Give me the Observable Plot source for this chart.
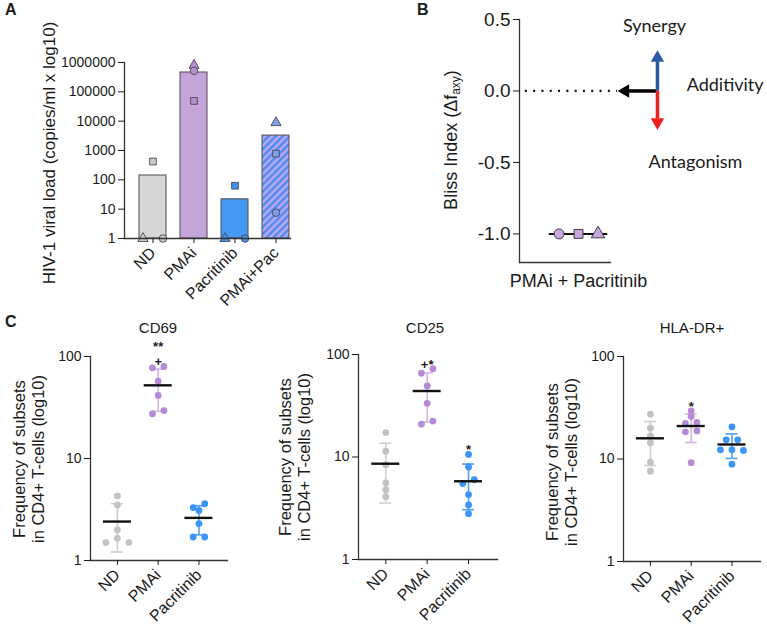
<!DOCTYPE html>
<html>
<head>
<meta charset="utf-8">
<script src="https://cdn.jsdelivr.net/npm/d3@7"></script>
<script src="https://cdn.jsdelivr.net/npm/@observablehq/plot@0.6"></script>
<style>
  body { margin: 0; background: #fff; }
  #fig { position: relative; width: 767px; height: 630px; overflow: hidden; background: #fff;
         font-family: "Liberation Sans", Arial, sans-serif; color: #1a1a1a; }
  .abs { position: absolute; }
  .panel-letter { position: absolute; font-weight: bold; font-size: 16px; }
  .vlabel { position: absolute; transform: translate(-50%, -50%) rotate(-90deg); white-space: nowrap; text-align: center; }
  .ctitle { position: absolute; transform: translate(-50%, -50%); white-space: nowrap; font-size: 15px; }
</style>
</head>
<body>
<div id="fig"></div>
<script>
// ---------- Panel A: viral load per condition (three donors) ----------
const viralGroups = ["ND", "PMAi", "Pacritinib", "PMAi+Pac"];
const donors = ["Donor 1", "Donor 2", "Donor 3"];
const donorSymbols = ["triangle", "square", "circle"];
const viralND = [1, 420, 1];
const viralPMAi = [800000, 49000, 520000];
const viralPac = [1, 63, 1];
const viralCombo = [8900, 780, 7.6];
const viralTicks = [1, 10, 100, 1000, 10000, 100000, 1000000];

// ---------- Panel B: Bliss index of the combination ----------
const blissLabel = "PMAi + Pacritinib";
const blissValues = [-1.0, -1.0, -1.0];
const blissTicks = [-1.0, -0.5, 0.0, 0.5];

// ---------- Panel C: activation markers on CD4+ T cells ----------
const groups = ["ND", "PMAi", "Pacritinib"];
const cd69 = [
  [4.3, 3.5, 2.0, 1.65, 1.5, 1.5],
  [79.8, 77.5, 57.3, 41.5, 29.5, 27.4],
  [3.6, 3.3, 3.1, 2.3, 1.7, 1.7]
];
const cd25 = [
  [17.3, 11.4, 8.4, 5.6, 4.8, 4.1],
  [72.6, 65.6, 49.3, 33.4, 22.4, 20.9],
  [10.6, 8.0, 6.0, 5.5, 4.3, 3.4, 2.8]
];
const hladr = [
  [27.4, 20.0, 16.8, 14.4, 9.3, 7.6],
  [29.5, 26.0, 22.7, 22.2, 18.8, 18.4, 9.2],
  [20.6, 15.4, 15.4, 12.3, 12.3, 12.1, 8.9]
];
const cd69Signif = ["", "**\n+", ""];
const cd25Signif = ["", "+*", "*"];
const hladrSignif = ["", "*", ""];
const cTicks = [1, 10, 100];

// colours
const barFill = {"ND": "#d6d6d6", "PMAi": "#c5a4db", "Pacritinib": "#4598f4", "PMAi+Pac": "url(#hatchA)"};
const pointFill = {"ND": "#c9c9c9", "PMAi": "#b98cd3", "Pacritinib": "#3f94f2", "PMAi+Pac": "#7d9ff0"};
const dotColor = ["#c2c2c2", "#b68bd5", "#3a95f6"];
const errColor = ["#cfcfcf", "#d2b6e6", "#4ea2f6"];

const FONT = "Liberation Sans, Arial, sans-serif";
const fig = document.getElementById("fig");

function place(node, left, top, width) {
  const d = document.createElement("div");
  d.className = "abs";
  d.style.left = left + "px";
  d.style.top = top + "px";
  if (width) d.style.width = width + "px";
  d.appendChild(node);
  fig.appendChild(d);
  return d;
}
function addText(cls, html, x, y, css) {
  const d = document.createElement("div");
  d.className = cls;
  d.style.left = x + "px";
  d.style.top = y + "px";
  Object.assign(d.style, css || {});
  d.innerHTML = html;
  fig.appendChild(d);
  return d;
}

// ================= Panel A =================
{
  const W = 300, H = 320, mL = 124, mR = 10, mT = 62, mB = 82;
  const series = [viralND, viralPMAi, viralPac, viralCombo];
  const bars = viralGroups.map((g, i) => ({group: g, value: d3.mean(series[i])}));
  const pts = viralGroups.flatMap((g, i) => series[i].map((v, k) => ({group: g, k, donor: donors[k], value: v})));
  const floor = viralTicks[0];
  const raised = pts.filter(d => d.value > floor);
  const atFloor = k => pts.filter(d => d.value <= floor && d.k === k);
  const dotOpts = {x: "group", y: "value", symbol: "donor", r: 3.8, fill: d => pointFill[d.group], stroke: "#4a4a4a", strokeWidth: 0.9};

  const svg = Plot.plot({
    width: W, height: H, marginLeft: mL, marginRight: mR, marginTop: mT, marginBottom: mB,
    style: {fontFamily: FONT, fontSize: "14px", color: "#1a1a1a", background: "transparent"},
    x: {type: "band", domain: viralGroups, range: [132.5, 296.5], paddingInner: 0.34, paddingOuter: 0.17, label: null},
    y: {type: "log", domain: [1, 1e6], label: null},
    color: {type: "identity"},
    symbol: {domain: donors, range: donorSymbols},
    marks: [
      Plot.barY(bars, {x: "group", y1: floor, y2: "value", fill: d => barFill[d.group], stroke: "#4d4d4d", strokeWidth: 1}),
      Plot.dot(raised, dotOpts),
      ...[0, 1, 2].map(k => Plot.dot(atFloor(k), {...dotOpts, dx: (k - 1) * 10})),
      Plot.frame({anchor: "left", stroke: "#333", strokeWidth: 1.3}),
      Plot.frame({anchor: "bottom", stroke: "#333", strokeWidth: 1.3}),
      Plot.axisY({ticks: viralTicks, tickFormat: d => String(d), tickSize: 6, fontSize: 14, label: null}),
      Plot.axisX({tickRotate: -45, tickSize: 5, fontSize: 16, label: null})
    ]
  });
  const defs = d3.select(svg).insert("defs", ":first-child");
  const pat = defs.append("pattern").attr("id", "hatchA").attr("width", 5).attr("height", 5)
    .attr("patternUnits", "userSpaceOnUse").attr("patternTransform", "rotate(45)");
  pat.append("rect").attr("width", 5).attr("height", 5).attr("fill", "#bfaaf0");
  pat.append("rect").attr("width", 2.6).attr("height", 5).attr("fill", "#4f8cf2");
  place(svg, 0, 0, W);

  addText("panel-letter", "A", 5, 1);
  addText("vlabel", "HIV-1 viral load (copies/ml x log10)", 50, 153, {fontSize: "17px"});
}

// ================= Panel B =================
{
  const W = 367, H = 300, mL = 119, mR = 157, mT = 19, mB = 38;
  const xDom = [-3.03, 1.64];
  const n = blissValues.length;
  const pts = blissValues.map((v, k) => ({donor: donors[k], value: v, x: (n - 1) / 2 - k}));
  const mean = d3.mean(blissValues);

  const svg = Plot.plot({
    width: W, height: H, marginLeft: mL, marginRight: mR, marginTop: mT, marginBottom: mB,
    style: {fontFamily: FONT, fontSize: "18px", color: "#1a1a1a", background: "transparent"},
    x: {domain: xDom, label: null},
    y: {domain: [-1.2, 0.5], label: null},
    symbol: {domain: donors, range: donorSymbols},
    marks: [
      // additivity reference at zero
      Plot.ruleY([0], {x1: xDom[0] + 0.3, x2: 2.0, stroke: "#111", strokeWidth: 2.2, strokeDasharray: "2 6.3"}),
      // guide arrows: left (additivity), up (synergy), down (antagonism)
      Plot.ruleY([0], {x1: 2.55, x2: 4.05, stroke: "#000", strokeWidth: 3.5}),
      Plot.dot([0], {x: 2.4, y: 0, symbol: "triangle", r: 5, rotate: -90, fill: "#000"}),
      Plot.ruleX([4.05], {y1: 0, y2: 0.205, stroke: "#2b58a3", strokeWidth: 3.5}),
      Plot.dot([0], {x: 4.05, y: 0.231, symbol: "triangle", r: 5, fill: "#2b58a3"}),
      Plot.ruleX([4.05], {y1: 0, y2: -0.195, stroke: "#f01f1f", strokeWidth: 3.5}),
      Plot.dot([0], {x: 4.05, y: -0.218, symbol: "triangle", r: 5, rotate: 180, fill: "#f01f1f"}),
      Plot.text(["Synergy"], {x: 3.9, y: 0.455, text: d => d, fontFamily: "Lato, sans-serif", fontSize: 18}),
      Plot.text(["Additivity"], {x: 5.55, y: 0.04, text: d => d, textAnchor: "start", fontFamily: "Lato, sans-serif", fontSize: 18}),
      Plot.text(["Antagonism"], {x: 6.0, y: -0.5, text: d => d, fontFamily: "Lato, sans-serif", fontSize: 18}),
      // data
      Plot.ruleY([mean], {x1: -1.5, x2: 1.5, stroke: "#111", strokeWidth: 2}),
      Plot.dot(pts, {x: "x", y: "value", symbol: "donor", r: 5, fill: "#c7a5de", stroke: "#3d3d3d", strokeWidth: 1}),
      Plot.frame({anchor: "left", stroke: "#333", strokeWidth: 1.3}),
      Plot.frame({anchor: "bottom", stroke: "#333", strokeWidth: 1.3}),
      Plot.axisY({ticks: blissTicks, tickFormat: d => d.toFixed(1), tickSize: 6, fontSize: 19, label: null}),
      Plot.axisX({ticks: [0], tickFormat: () => blissLabel, tickSize: 0, tickPadding: 12, fontSize: 18, label: null})
    ]
  });
  place(svg, 400, 0, W);

  addText("panel-letter", "B", 417, 1);
  addText("vlabel", "Bliss Index (&Delta;f<sub style=\"font-size:12px;vertical-align:-3px\">axy</sub>)", 452, 140, {fontSize: "18px"});
}

// ================= Panel C =================
// Points that sit within a few pixels of each other are spread sideways
function swarm(values, toPx, spacing) {
  const order = d3.range(values.length).sort((a, b) => values[b] - values[a]);
  const off = new Array(values.length).fill(0);
  let i = 0;
  while (i < order.length) {
    const y0 = toPx(values[order[i]]);
    let j = i + 1;
    while (j < order.length && Math.abs(toPx(values[order[j]]) - y0) < 5) j++;
    const bin = order.slice(i, j), n = bin.length;
    const slots = n === 1 ? [0] : n === 2 ? [0.5, -0.5] : n === 3 ? [0, -1, 1] : bin.map((_, q) => q - (n - 1) / 2);
    bin.forEach((b, q) => off[b] = slots[q] * spacing);
    i = j;
  }
  return off;
}

function activationPanel({values, signif, title, left, width, mL, mR, mT, mB, titleX, labelX, labelY}) {
  const H = 320, top = 320;
  const xDom = [-0.66, 2.7];
  const pxPerUnit = (width - mL - mR) / (xDom[1] - xDom[0]);
  const decadePx = (H - mT - mB) / 2;
  const dots = [], stats = [];
  values.forEach((vals, gi) => {
    const off = swarm(vals, v => -decadePx * Math.log10(v), 11.5);
    vals.forEach((v, k) => dots.push({gi, value: v, x: gi + off[k] / pxPerUnit}));
    const m = d3.mean(vals), s = d3.deviation(vals);
    stats.push({gi, mean: m, lo: m - s, hi: m + s, max: d3.max(vals), note: signif[gi]});
  });
  const capW = 6 / pxPerUnit, meanW = 14 / pxPerUnit;

  const svg = Plot.plot({
    width, height: H, marginLeft: mL, marginRight: mR, marginTop: mT, marginBottom: mB,
    style: {fontFamily: FONT, fontSize: "14px", color: "#1a1a1a", background: "transparent"},
    x: {domain: xDom, label: null},
    y: {type: "log", domain: [1, 100], label: null},
    marks: [
      Plot.ruleX(stats, {x: "gi", y1: "lo", y2: "hi", stroke: d => errColor[d.gi], strokeWidth: 1.6}),
      Plot.ruleY(stats, {y: "hi", x1: d => d.gi - capW, x2: d => d.gi + capW, stroke: d => errColor[d.gi], strokeWidth: 1.6}),
      Plot.ruleY(stats, {y: "lo", x1: d => d.gi - capW, x2: d => d.gi + capW, stroke: d => errColor[d.gi], strokeWidth: 1.6}),
      Plot.dot(dots, {x: "x", y: "value", r: 3.4, fill: d => dotColor[d.gi]}),
      Plot.ruleY(stats, {y: "mean", x1: d => d.gi - meanW, x2: d => d.gi + meanW, stroke: "#111", strokeWidth: 2.4}),
      Plot.text(stats.filter(d => d.note), {x: "gi", y: "max", text: "note", lineAnchor: "bottom", lineHeight: 1.2, dy: 0, fontSize: 13, fontWeight: "bold"}),
      Plot.frame({anchor: "left", stroke: "#333", strokeWidth: 1.3}),
      Plot.frame({anchor: "bottom", stroke: "#333", strokeWidth: 1.3}),
      Plot.axisY({ticks: cTicks, tickFormat: d => String(d), tickSize: 6, fontSize: 14, label: null}),
      Plot.axisX({ticks: [0, 1, 2], tickFormat: i => groups[i], tickRotate: -45, tickSize: 5, fontSize: 16, label: null})
    ]
  });
  place(svg, left, top, width);
  addText("ctitle", title, titleX, 327);
  addText("vlabel", "Frequency of subsets<br>in CD4+ T-cells (log10)", labelX, labelY, {fontSize: "16.5px", lineHeight: "19px"});
}

addText("panel-letter", "C", 5, 313);
activationPanel({values: cd69, signif: cd69Signif, title: "CD69", left: 0, width: 240, mL: 90, mR: 13, mT: 36, mB: 80, titleX: 158, labelX: 29, labelY: 459});
activationPanel({values: cd25, signif: cd25Signif, title: "CD25", left: 250, width: 260, mL: 108, mR: 13, mT: 34, mB: 81, titleX: 425, labelX: 295, labelY: 457});
activationPanel({values: hladr, signif: hladrSignif, title: "HLA-DR+", left: 510, width: 257, mL: 113, mR: 7, mT: 36, mB: 79, titleX: 692, labelX: 562, labelY: 462});
</script>
</body>
</html>
